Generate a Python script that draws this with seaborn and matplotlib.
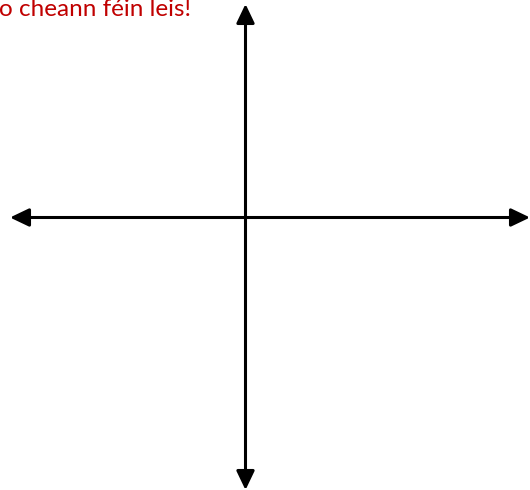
import matplotlib
matplotlib.use("Agg")
import matplotlib.pyplot as plt
import seaborn as sns
import pandas as pd

sns.set_theme(style="white")
plt.rcParams['font.family'] = ['Lato', 'DejaVu Sans']

# Data: coordinate axes extents (origin-centered)
x_axis_x = [-235.5, 284.5]
x_axis_y = [0, 0]
y_axis_x = [0, 0]
y_axis_y = [-272.5, 213.5]
caption = "o cheann féin leis!"

fig = plt.figure(figsize=(5.3, 4.9), dpi=100)
ax = fig.add_axes([0, 0, 1, 1])
ax.set_xlim(-245.5, 284.5)
ax.set_ylim(-272.5, 217.5)
ax.axis('off')

df = pd.DataFrame({"x": x_axis_x, "y": x_axis_y})
sns.lineplot(data=df, x="x", y="y", ax=ax, color="black", linewidth=0, sort=False)

props = dict(arrowstyle="<|-|>,head_length=1.15,head_width=0.55", color="black",
             lw=2.2, shrinkA=0, shrinkB=0, mutation_scale=10)
ax.annotate("", xy=(x_axis_x[1], x_axis_y[1]), xytext=(x_axis_x[0], x_axis_y[0]),
            arrowprops=props)
ax.annotate("", xy=(y_axis_x[1], y_axis_y[1]), xytext=(y_axis_x[0], y_axis_y[0]),
            arrowprops=props)

fig.text(-0.002, 1 - 15.5 / 490, caption, color="#C00000", fontsize=17.5,
         ha="left", va="baseline")

fig.savefig("out.png", dpi=100, facecolor="white")
